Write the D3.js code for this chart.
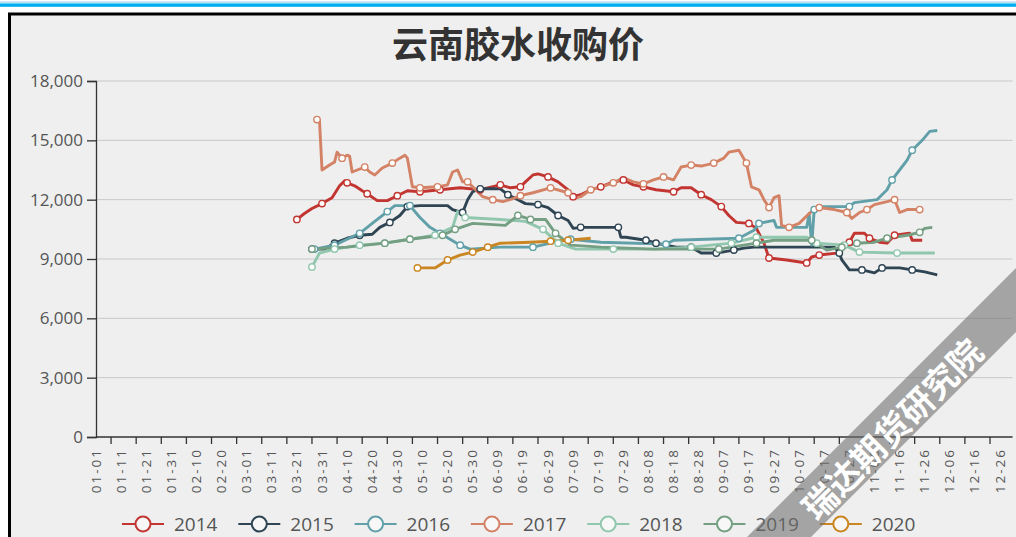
<!DOCTYPE html>
<html><head><meta charset="utf-8">
<script src="https://cdn.jsdelivr.net/npm/d3@7"></script>
<style>
html,body{margin:0;padding:0;background:#fff;overflow:hidden;}
svg{display:block;}
</style></head>
<body>
<script>
const title = "云南胶水收购价";
const tickLabels = ["01-01","01-11","01-21","01-31","02-10","02-20","03-01","03-11","03-21","03-31","04-10","04-20","04-30","05-10","05-20","05-30","06-09","06-19","06-29","07-09","07-19","07-29","08-08","08-18","08-28","09-07","09-17","09-27","10-07","10-17","10-27","11-06","11-16","11-26","12-06","12-16","12-26"];
const yTicks = [0,3000,6000,9000,12000,15000,18000];
const seriesNames = ["2014","2015","2016","2017","2018","2019","2020"];
const colors = ["#c23531","#2f4554","#61a0a8","#d48265","#91c7ae","#749f83","#ca8622"];

const s2014 = [["03-21",11000],["03-24",11300],["03-27",11550],["03-31",11800],["04-04",12100],["04-07",12700],["04-09",12950],["04-10",12850],["04-13",12700],["04-16",12450],["04-18",12300],["04-22",11950],["04-26",11950],["04-30",12200],["05-04",12450],["05-09",12400],["05-17",12500],["05-25",12600],["06-02",12500],["06-10",12750],["06-14",12600],["06-18",12650],["06-20",12900],["06-23",13250],["06-25",13300],["06-29",13150],["07-03",12900],["07-07",12500],["07-09",12150],["07-12",12250],["07-16",12500],["07-20",12650],["07-24",12850],["07-29",13000],["08-02",12750],["08-06",12650],["08-11",12500],["08-18",12400],["08-21",12600],["08-25",12600],["08-29",12250],["09-02",12000],["09-06",11650],["09-09",11200],["09-12",10850],["09-17",10800],["09-20",10550],["09-23",9800],["09-25",9050],["10-02",8950],["10-10",8800],["10-12",9100],["10-15",9200],["10-22",9300],["10-23",9450],["10-27",9850],["10-29",10300],["11-02",10300],["11-04",10050],["11-08",9850],["11-11",9800],["11-14",10200],["11-20",10300],["11-21",9950],["11-25",9950]];
const s2015 = [["03-27",9500],["04-01",9500],["04-05",9800],["04-10",10050],["04-15",10200],["04-20",10250],["04-23",10600],["04-27",10850],["05-01",11200],["05-04",11650],["05-09",11700],["05-20",11700],["05-22",11500],["05-26",11350],["05-28",12000],["05-30",12400],["06-02",12550],["06-10",12550],["06-13",12250],["06-17",12000],["06-20",11800],["06-25",11750],["06-29",11600],["07-03",11200],["07-07",10950],["07-09",10550],["07-12",10600],["07-27",10600],["07-28",10100],["07-30",10100],["08-07",9950],["08-11",9800],["08-19",9600],["08-25",9600],["08-29",9300],["09-04",9300],["09-11",9450],["09-15",9550],["09-19",9600],["10-21",9600],["10-23",9300],["10-24",8950],["10-27",8450],["11-01",8450],["11-06",8300],["11-09",8550],["11-16",8550],["11-21",8450],["11-26",8350],["12-01",8200]];
const s2016 = [["03-28",9500],["04-05",9700],["04-10",10000],["04-15",10300],["04-20",10800],["04-26",11400],["04-29",11700],["05-05",11700],["05-09",11100],["05-13",10600],["05-17",10300],["05-21",10000],["05-25",9700],["05-29",9500],["06-10",9600],["06-23",9600],["06-30",9800],["07-08",10000],["07-20",9850],["08-15",9750],["08-18",9950],["09-13",10050],["09-19",10450],["09-21",10800],["09-27",10950],["09-28",10600],["10-10",10600],["10-11",11300],["10-12",9700],["10-13",11500],["10-15",11650],["10-27",11650],["10-29",11850],["11-07",12000],["11-11",12500],["11-13",13000],["11-16",13500],["11-19",14000],["11-21",14500],["11-25",15000],["11-28",15450],["12-01",15500]];
const s2017 = [["03-29",16050],["03-30",16000],["03-31",13500],["04-03",13750],["04-05",13900],["04-06",14400],["04-08",14100],["04-10",14250],["04-11",14200],["04-12",13400],["04-14",13500],["04-17",13650],["04-19",13400],["04-21",13250],["04-24",13600],["04-28",13850],["05-01",14100],["05-03",14250],["05-04",14100],["05-06",12650],["05-09",12600],["05-16",12650],["05-20",12750],["05-22",13400],["05-24",13500],["05-26",12900],["05-28",12900],["05-30",12650],["06-03",12150],["06-07",12000],["06-11",11900],["06-15",12050],["06-18",12200],["06-23",12350],["06-30",12600],["07-07",12350],["07-09",12050],["07-12",12150],["07-16",12500],["07-20",12650],["07-25",12850],["07-29",13100],["08-02",12900],["08-06",12800],["08-10",13000],["08-14",13150],["08-18",13000],["08-21",13650],["08-25",13750],["08-29",13700],["09-03",13850],["09-07",14100],["09-09",14400],["09-13",14500],["09-16",13850],["09-18",12650],["09-21",12500],["09-23",12000],["09-25",11600],["09-27",12100],["09-29",12200],["09-30",10700],["10-03",10600],["10-07",10800],["10-11",11300],["10-13",11500],["10-15",11600],["10-21",11500],["10-26",11350],["10-28",11050],["10-31",11350],["11-03",11500],["11-06",11750],["11-11",11900],["11-14",12000],["11-16",11350],["11-19",11500],["11-24",11500]];
const s2018 = [["03-27",8600],["03-30",9300],["04-05",9500],["04-15",9700],["04-25",9800],["05-05",10000],["05-15",10200],["05-22",10600],["05-24",11400],["05-27",11100],["06-10",11000],["06-20",10900],["06-27",10500],["07-03",9800],["07-10",9500],["07-25",9500],["08-10",9500],["08-25",9600],["09-10",9800],["09-20",10100],["10-10",10100],["10-14",9800],["10-25",9700],["10-31",9350],["11-15",9300],["11-30",9300]];
const s2019 = [["03-27",9500],["04-10",9600],["04-25",9800],["05-05",10000],["05-18",10200],["05-23",10500],["05-30",10800],["06-12",10700],["06-17",11200],["06-22",11000],["06-28",11000],["07-02",10300],["07-08",9700],["07-20",9600],["08-10",9500],["09-05",9500],["09-20",9800],["09-27",9950],["10-12",9950],["10-18",9450],["10-24",9600],["10-30",9800],["11-06",9850],["11-11",10050],["11-19",10200],["11-24",10350],["11-26",10550],["11-29",10600]];
const s2020 = [["05-08",8550],["05-15",8550],["05-20",8950],["05-25",9200],["05-30",9350],["06-05",9600],["06-10",9800],["06-22",9850],["06-30",9900],["07-07",9950],["07-16",10050]];
const allSeries = [s2014,s2015,s2016,s2017,s2018,s2019,s2020];

const W = 1016, H = 537;
const parse = d3.timeParse("%Y-%m-%d");
const jan1 = parse("2020-01-01");
const dayOf = s => d3.timeDay.count(jan1, parse("2020-" + s));

const svg = d3.select("body").append("svg").attr("width", W).attr("height", H);

// top decoration
svg.append("rect").attr("x",0).attr("y",0).attr("width",W).attr("height",H).attr("fill","#fff");
svg.append("rect").attr("x",0).attr("y",1.5).attr("width",W).attr("height",1.2).attr("fill","#9fd3f3");
svg.append("rect").attr("x",0).attr("y",3.4).attr("width",W).attr("height",3.4).attr("fill","#00aeef");
svg.append("rect").attr("x",9.5).attr("y",14).attr("width",W+20).attr("height",H+20)
  .attr("fill","#efefef").attr("stroke","#000").attr("stroke-width",3);

const x = d3.scaleLinear().domain([0,365]).range([96,1012.6]);
const y = d3.scaleLinear().domain([0,18000]).range([437,81]);

const font = "'Open Sans', 'Noto Sans CJK SC', sans-serif";

// title
svg.append("text").attr("x",518).attr("y",58).attr("text-anchor","middle")
  .attr("font-family","'Noto Sans CJK SC', sans-serif").attr("font-weight","bold")
  .attr("font-size",36).attr("fill","#333").text(title);

// grid
svg.append("g").selectAll("line").data(yTicks.slice(1)).join("line")
  .attr("x1",96).attr("x2",1012.6).attr("y1",d=>y(d)).attr("y2",d=>y(d))
  .attr("stroke","#c8c8c8").attr("stroke-width",1);

// y axis
const yAxis = svg.append("g").attr("transform","translate(96,0)")
  .call(d3.axisLeft(y).tickValues(yTicks).tickFormat(d3.format(",")).tickSize(9).tickPadding(4));
yAxis.select(".domain").attr("stroke","#333").attr("stroke-width",1.3);
yAxis.selectAll(".tick line").attr("stroke","#333").attr("stroke-width",1.3);
yAxis.selectAll("text").attr("font-family",font).attr("font-size",17).attr("fill","#555");

// x axis
const tickDays = d3.range(6, 366, 10);
const xAxis = svg.append("g").attr("transform","translate(0,437)");
xAxis.append("line").attr("x1",96).attr("x2",1012.6).attr("y1",0).attr("y2",0)
  .attr("stroke","#333").attr("stroke-width",1.3);
xAxis.selectAll("line.tk").data(tickDays).join("line").attr("class","tk")
  .attr("x1",d=>x(d)).attr("x2",d=>x(d)).attr("y1",0).attr("y2",7)
  .attr("stroke","#333").attr("stroke-width",1.3);
xAxis.selectAll("text").data(tickLabels).join("text")
  .attr("transform",d=>`translate(${x(dayOf(d))+4.5},11) rotate(-90)`)
  .attr("text-anchor","end").attr("font-family",font).attr("font-size",13.5)
  .attr("letter-spacing",2).attr("fill","#555").text(d=>d);

// lines
const line = d3.line().x(d=>x(dayOf(d[0]))).y(d=>y(d[1]));
const plot = svg.append("g");
allSeries.forEach((s,i)=>{
  plot.append("path").datum(s).attr("d",line).attr("fill","none")
    .attr("stroke",colors[i]).attr("stroke-width",2.9).attr("stroke-linejoin","round");
});
// markers: data points nearest each 10-day step
allSeries.forEach((s,i)=>{
  const days = s.map(d=>dayOf(d[0]));
  const picked = [];
  for(let t=days[0]; t<=days[days.length-1]; t+=10){
    let best=-1, bd=1e9;
    days.forEach((dd,j)=>{ const dist=Math.abs(dd-t); if(dist<bd){bd=dist;best=j;} });
    if(bd<=3 && !picked.includes(best)) picked.push(best);
  }
  plot.append("g").selectAll("circle").data(picked.map(j=>s[j])).join("circle")
    .attr("cx",d=>x(dayOf(d[0]))).attr("cy",d=>y(d[1])).attr("r",3.2)
    .attr("fill","#fff").attr("stroke",colors[i]).attr("stroke-width",1.4);
});

// legend
const leg = svg.append("g");
seriesNames.forEach((n,i)=>{
  const x0 = 122 + i*116.3;
  const g = leg.append("g").attr("transform",`translate(${x0},524)`);
  g.append("line").attr("x1",0).attr("x2",42).attr("y1",0).attr("y2",0)
    .attr("stroke",colors[i]).attr("stroke-width",2);
  g.append("circle").attr("cx",21).attr("cy",0).attr("r",7.5)
    .attr("fill","#f7f7f7").attr("stroke",colors[i]).attr("stroke-width",2);
  g.append("text").attr("x",52).attr("y",0).attr("dy","0.36em")
    .attr("font-family",font).attr("font-size",19).attr("fill","#555").text(n);
});

// watermark
const wm = svg.append("g");
wm.append("polygon").attr("points",[[1016,268],[1016,332],[811,537],[747,537]].map(p=>p.join(",")).join(" "))
  .attr("fill","rgba(110,110,110,0.58)");
wm.append("text").attr("transform","translate(893,430) rotate(-45)")
  .attr("text-anchor","middle").attr("dy","0.35em")
  .attr("font-family","'Noto Sans CJK SC', sans-serif").attr("font-weight","bold")
  .attr("font-size",34).attr("fill","#fff").text("瑞达期货研究院");
</script>
</body></html>
